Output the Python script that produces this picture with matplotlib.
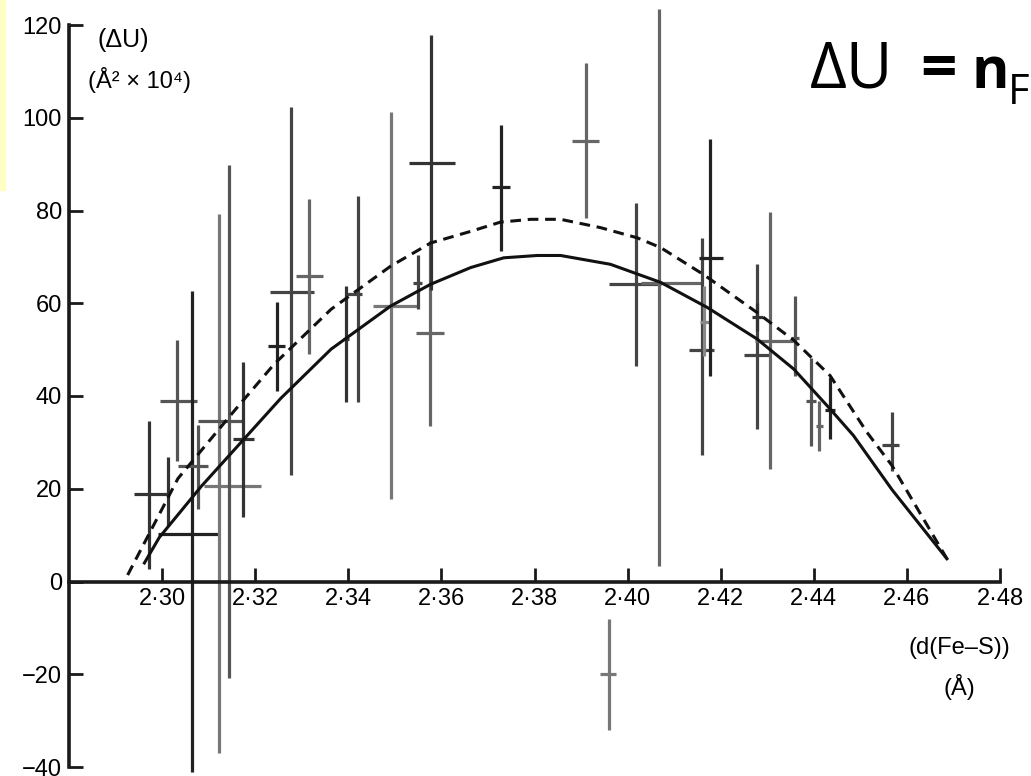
import numpy as np
import matplotlib.pyplot as plt
from matplotlib.patches import Rectangle

# Fe-S distance (A) and Delta U (A^2 x 10^4)
d_fes = [2.2971, 2.3012, 2.3032, 2.3064, 2.3077, 2.3123, 2.3144, 2.3173, 2.3246,
         2.3277, 2.3316, 2.3395, 2.3420, 2.3491, 2.3549, 2.3575, 2.3577, 2.3727,
         2.3910, 2.3960, 2.4019, 2.4068, 2.4160, 2.4165, 2.4178, 2.4278, 2.4278,
         2.4306, 2.4359, 2.4394, 2.4412, 2.4435, 2.4568]
delta_u = [18.9, 19.5, 39.0, 10.3, 25.0, 20.5, 34.7, 30.8, 50.8,
           62.5, 65.9, 52.3, 61.9, 59.4, 64.4, 53.5, 90.3, 85.0,
           94.9, -20.0, 64.1, 64.4, 50.0, 56.0, 69.8, 48.8, 57.0,
           51.9, 52.6, 39.0, 33.6, 37.0, 29.5]
# ends of the horizontal and vertical error bars
d_lo = [2.2940, 2.3012, 2.2996, 2.2991, 2.3034, 2.3090, 2.3077, 2.3152, 2.3227,
        2.3232, 2.3287, 2.3388, 2.3398, 2.3454, 2.3540, 2.3545, 2.3531, 2.3708,
        2.3881, 2.3940, 2.3960, 2.4028, 2.4131, 2.4155, 2.4153, 2.4249, 2.4268,
        2.4274, 2.4350, 2.4384, 2.4405, 2.4425, 2.4546]
d_hi = [2.3013, 2.3012, 2.3075, 2.3123, 2.3098, 2.3212, 2.3177, 2.3198, 2.3263,
        2.3327, 2.3345, 2.3402, 2.3430, 2.3550, 2.3558, 2.3606, 2.3629, 2.3747,
        2.3938, 2.3976, 2.4071, 2.4163, 2.4185, 2.4175, 2.4205, 2.4307, 2.4290,
        2.4356, 2.4368, 2.4404, 2.4419, 2.4445, 2.4582]
u_lo = [2.8, 12.0, 26.0, -41.0, 15.7, -37.0, -20.9, 14.0, 41.1,
        22.9, 49.0, 38.7, 38.6, 17.8, 58.7, 33.6, 62.8, 71.2,
        78.4, -32.0, 46.4, 3.4, 27.2, 48.7, 44.4, 32.9, 54.0,
        24.3, 44.4, 29.3, 28.2, 30.8, 23.9]
u_hi = [34.7, 26.9, 52.0, 62.6, 33.8, 79.3, 89.9, 47.3, 60.3,
        102.4, 82.4, 63.7, 83.1, 101.3, 70.5, 73.4, 117.8, 98.5,
        111.8, -8.0, 81.7, 123.4, 74.1, 63.7, 95.4, 68.4, 60.0,
        79.6, 61.6, 48.3, 39.0, 44.0, 36.5]
# some bars print lighter grey in the scan
bar_shade = ['#333333', '#333333', '#555555', '#222222', '#555555', '#777777', '#555555', '#333333', '#222222',
             '#444444', '#666666', '#333333', '#444444', '#777777', '#444444', '#666666', '#333333', '#222222',
             '#666666', '#777777', '#444444', '#666666', '#444444', '#888888', '#222222', '#444444', '#333333',
             '#666666', '#555555', '#555555', '#666666', '#222222', '#444444']

# fitted curves (solid and dashed)
solid_d = [2.2962, 2.2994, 2.3084, 2.3255, 2.3363, 2.3491, 2.3577, 2.3663, 2.3734,
           2.3806, 2.3856, 2.3963, 2.4071, 2.4171, 2.4278, 2.4357, 2.4435, 2.4485,
           2.4568, 2.4686]
solid_u = [4.0, 9.5, 20.5, 39.5, 50.1, 59.4, 64.1, 67.7, 69.8,
           70.3, 70.3, 68.4, 64.5, 59.1, 52.3, 45.8, 37.2, 31.5,
           19.8, 4.9]
dashed_d = [2.2926, 2.3034, 2.3155, 2.3241, 2.3363, 2.3491, 2.3577, 2.3663, 2.3727,
            2.3792, 2.3856, 2.3942, 2.4021, 2.4071, 2.4163, 2.4278, 2.4357, 2.4435,
            2.4514, 2.4568, 2.4686]
dashed_u = [1.4, 22.2, 36.8, 46.9, 58.7, 68.0, 73.0, 75.5, 77.5,
            78.1, 78.1, 76.3, 74.1, 72.0, 66.2, 58.0, 52.0, 44.4,
            32.2, 25.0, 4.9]

x_ticks = [2.30, 2.32, 2.34, 2.36, 2.38, 2.40, 2.42, 2.44, 2.46, 2.48]
x_tick_labels = ['2·30', '2·32', '2·34', '2·36', '2·38', '2·40', '2·42', '2·44', '2·46', '2·48']
y_ticks = [-40, -20, 0, 20, 40, 60, 80, 100, 120]

plt.rcParams['font.family'] = ['Liberation Sans', 'DejaVu Sans']

fig = plt.figure(figsize=(10.31, 7.76), dpi=100, facecolor='white')
ax = fig.add_axes([69 / 1031, 9 / 776, 931 / 1031, 742 / 776])
ax.set_xlim(2.28, 2.48)
ax.set_ylim(-40, 120)

x = np.array(d_fes)
y = np.array(delta_u)
xerr = np.array([x - np.array(d_lo), np.array(d_hi) - x])
yerr = np.array([y - np.array(u_lo), np.array(u_hi) - y])
for i in range(len(x)):
    eb = ax.errorbar(x[i], y[i], xerr=xerr[:, i:i + 1], yerr=yerr[:, i:i + 1],
                     fmt='none', ecolor=bar_shade[i], elinewidth=2.3, capsize=0, zorder=2)
    for coll in eb[2]:
        coll.set_clip_on(False)

ax.plot(solid_d, solid_u, color='#111111', lw=2.2, zorder=3)
ax.plot(dashed_d, dashed_u, color='#111111', lw=2.2, dashes=(3.5, 2.2), zorder=3)

# axes look: y axis on the left, x axis through zero
for s in ['top', 'right']:
    ax.spines[s].set_visible(False)
ax.spines['bottom'].set_position(('data', 0))
for s in ['bottom', 'left']:
    ax.spines[s].set_linewidth(2.6)
    ax.spines[s].set_color('#1a1a1a')
ax.set_xticks(x_ticks)
ax.set_xticklabels(x_tick_labels)
ax.set_yticks(y_ticks)
ax.tick_params(axis='both', direction='in', length=10, width=2, color='#1a1a1a',
               labelsize=17)
ax.tick_params(axis='x', pad=5)
ax.tick_params(axis='y', pad=5)

ax.text(2.2862, 116.8, '(ΔU)', fontsize=18, ha='left', va='center')
ax.text(2.2840, 108.2, '(Å² × 10⁴)', fontsize=17, ha='left', va='center')
ax.text(2.4713, -14.3, '(d(Fe–S))', fontsize=17, ha='center', va='center')
ax.text(2.4713, -22.7, '(Å)', fontsize=17, ha='center', va='center')

# title fragment at top right (cut off by the page edge)
title_font = ['Open Sans', 'DejaVu Sans']
fig.text(810 / 1031, 1 - 88 / 776, 'ΔU', fontsize=46, family=title_font,
         ha='left', va='baseline')
fig.text(920 / 1031, 1 - 88 / 776, '=', fontsize=46, family=title_font,
         weight='bold', ha='left', va='baseline')
fig.text(972 / 1031, 1 - 88 / 776, 'n', fontsize=41, family=title_font,
         weight='bold', ha='left', va='baseline')
fig.text(1008 / 1031, 1 - 104 / 776, 'F', fontsize=30, family=title_font,
         ha='left', va='baseline')

# pale yellow strip at the left edge of the scan
fig.patches.append(Rectangle((0, 1 - 190 / 776), 5 / 1031, 190 / 776,
                             transform=fig.transFigure, color='#fefec4', zorder=0))

fig.savefig('out.png', dpi=100)
